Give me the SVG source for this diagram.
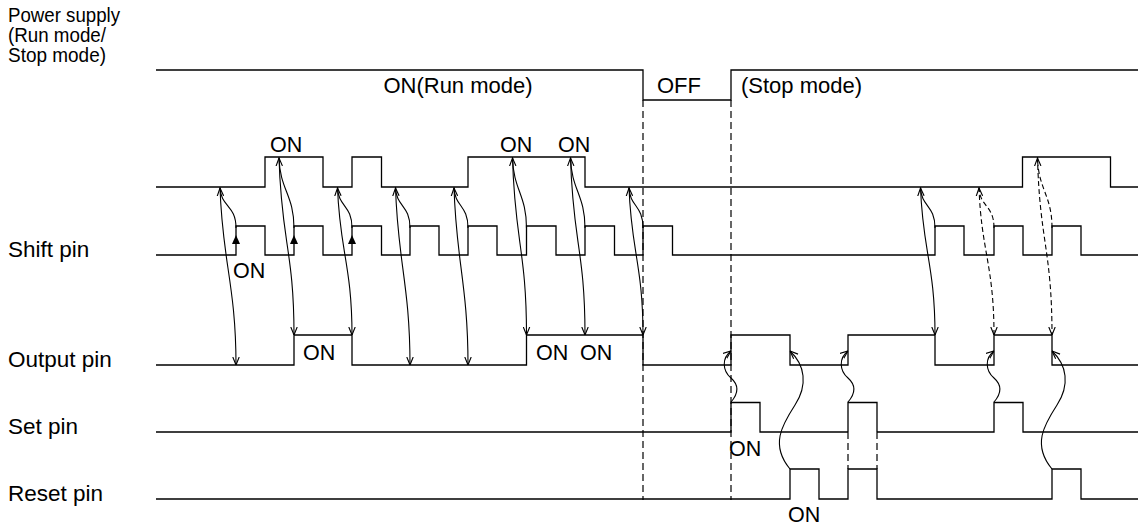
<svg xmlns="http://www.w3.org/2000/svg" width="1144" height="526" viewBox="0 0 1144 526">
<style>
.w{fill:none;stroke:#000;stroke-width:1.3}
.dl{fill:none;stroke:#000;stroke-width:1.2;stroke-dasharray:7 4}
.a{fill:none;stroke:#000;stroke-width:1.1;marker-end:url(#v)}
.ad{fill:none;stroke:#000;stroke-width:1.1;stroke-dasharray:5 3;marker-end:url(#v)}
.t{font-family:"Liberation Sans",Arial,sans-serif;font-size:22px;fill:#000}
.lb{font-family:"Liberation Sans",Arial,sans-serif;font-size:22.5px;fill:#000}
.ps{font-family:"Liberation Sans",Arial,sans-serif;font-size:21px;fill:#000}
.on{font-family:"Liberation Sans",Arial,sans-serif;font-size:21.5px;fill:#000}
</style>
<defs>
<marker id="v" viewBox="0 0 10 10" refX="10" refY="5" markerWidth="8" markerHeight="8" markerUnits="userSpaceOnUse" orient="auto">
<path d="M0,1 L10,5 L0,9" fill="none" stroke="#000" stroke-width="1.4"/>
</marker>
</defs>
<rect width="1144" height="526" fill="#fff"/>

<g id="guides">
<line class="dl" x1="643" y1="100" x2="643" y2="500"/>
<line class="dl" x1="731" y1="100" x2="731" y2="500"/>
<line class="dl" x1="848" y1="432" x2="848" y2="469"/>
<line class="dl" x1="877" y1="432" x2="877" y2="469"/>
</g>

<g id="power">
<text class="ps" x="8" y="22" textLength="112" lengthAdjust="spacingAndGlyphs">Power supply</text>
<text class="ps" x="8" y="42" textLength="98" lengthAdjust="spacingAndGlyphs">(Run mode/</text>
<text class="ps" x="8" y="62" textLength="98" lengthAdjust="spacingAndGlyphs">Stop mode)</text>
<path class="w" d="M156,70 H643 V100 H731 V70 H1138"/>
<text class="t" x="458" y="93" text-anchor="middle">ON(Run mode)</text>
<text class="t" x="679" y="93" text-anchor="middle">OFF</text>
<text class="t" x="741" y="93">(Stop mode)</text>
</g>

<g id="internal">
<path class="w" d="M156,187 H265 V157 H323 V187 H352 V157 H381.5 V187 H468 V157 H585 V187 H1022.5 V157 H1110.5 V187 H1138"/>
<text class="on" x="270" y="152">ON</text>
<text class="on" x="500" y="152">ON</text>
<text class="on" x="558" y="152">ON</text>
</g>

<g id="shift">
<text class="lb" x="8" y="257">Shift pin</text>
<path class="w" d="M156,255 H236 V226 H265 V255 H294 V226 H323 V255 H352 V226 H381.5 V255 H410 V226 H439 V255 H468 V226 H497 V255 H526.5 V226 H556 V255 H585 V226 H614.5 V255 H643 V226 H672.5 V255 H935 V226 H964 V255 H994 V226 H1023 V255 H1052 V226 H1081 V255 H1138"/>
<polygon points="236,235 232,244 240,244" fill="#000"/>
<polygon points="294,235 290,244 298,244" fill="#000"/>
<polygon points="352,235 348,244 356,244" fill="#000"/>
<text class="on" x="233" y="278">ON</text>
</g>

<g id="output">
<text class="lb" x="8" y="367">Output pin</text>
<path class="w" d="M156,365 H294 V335 H352 V365 H526.5 V335 H643 V365 H731 V335 H790 V365 H848 V335 H935 V365 H994 V335 H1052 V365 H1138"/>
<text class="on" x="303" y="360">ON</text>
<text class="on" x="536" y="360">ON</text>
<text class="on" x="580" y="360">ON</text>
</g>

<g id="set">
<text class="lb" x="8" y="434">Set pin</text>
<path class="w" d="M156,432 H731 V402.5 H760 V432 H848"/>
<path class="w" d="M848,432 V402.5 H877 V432"/>
<path class="w" d="M877,432 H994 V402.5 H1023 V432 H1138"/>
<text class="on" x="729" y="456">ON</text>
</g>

<g id="reset">
<text class="lb" x="8" y="501">Reset pin</text>
<path class="w" d="M156,499 H790 V469 H819 V499 H848 V469 H877 V499 H1052 V469 H1081 V499 H1138"/>
<text class="on" x="788" y="522">ON</text>
</g>

<g id="connectors">
<path class="a" d="M236,228 C236,205 221,207 220,188"/>
<path class="a" d="M294,228 C294,195 280,190 279,158"/>
<path class="a" d="M352,228 C352,205 338.5,207 337.5,188"/>
<path class="a" d="M410,228 C410,205 396.5,207 395.5,188"/>
<path class="a" d="M468,228 C468,205 455,207 454,188"/>
<path class="a" d="M526.5,228 C526.5,195 513.5,190 512.5,158"/>
<path class="a" d="M585,228 C585,195 571.5,190 570.5,158"/>
<path class="a" d="M643,228 C643,205 630,207 629,188"/>
<path class="a" d="M935,228 C935,205 921.5,207 920.5,188"/>
<path class="ad" d="M994,228 C994,205 980,207 979,188"/>
<path class="ad" d="M1052,228 C1052,195 1038.5,190 1037.5,158"/>
<path class="a" d="M220,187 C222,260 236,285 236,365"/>
<path class="a" d="M279,157 C281,240 294,250 294,335"/>
<path class="a" d="M337.5,187 C339.5,250 352,265 352,335"/>
<path class="a" d="M395.5,187 C397.5,260 410,285 410,365"/>
<path class="a" d="M454,187 C456,260 468,285 468,365"/>
<path class="a" d="M512.5,157 C514.5,240 526.5,250 526.5,335"/>
<path class="a" d="M570.5,157 C572.5,240 585,250 585,335"/>
<path class="a" d="M629,187 C631,250 643,265 643,335"/>
<path class="a" d="M920.5,187 C922.5,250 935,265 935,335"/>
<path class="ad" d="M979,187 C981,250 994,265 994,335"/>
<path class="ad" d="M1037.5,157 C1039.5,240 1052,250 1052,335"/>
<path class="a" d="M731,402 C738,394 740,386 731,378 C722,370 722,358 731,351"/>
<path class="a" d="M790,469 C770,445 782,425 795,405 C808,385 805,365 790,351"/>
<path class="a" d="M848,402 C855,394 857,386 848,378 C839,370 839,358 848,351"/>
<path class="a" d="M994,402 C1001,394 1003,386 994,378 C985,370 985,358 994,351"/>
<path class="a" d="M1052,469 C1032,445 1044,425 1057,405 C1070,385 1067,365 1052,351"/>
</g>
</svg>
